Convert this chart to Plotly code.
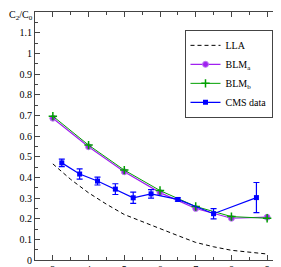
import plotly.graph_objects as go

# ---- data ----
x_blm = [3, 4, 5, 6, 7, 8, 9]
blm_a = [0.686, 0.548, 0.427, 0.326, 0.249, 0.202, 0.207]
blm_b = [0.696, 0.556, 0.435, 0.336, 0.259, 0.210, 0.202]

x_lla = [3, 3.5, 4, 4.5, 5, 5.5, 6, 6.5, 7, 7.5, 8, 8.5, 9]
lla = [0.465, 0.39, 0.325, 0.27, 0.22, 0.185, 0.153, 0.118, 0.085, 0.064, 0.047, 0.037, 0.029]

x_cms = [3.25, 3.75, 4.25, 4.75, 5.25, 5.75, 6.5, 7.5, 8.7]
cms = [0.470, 0.416, 0.382, 0.343, 0.301, 0.320, 0.293, 0.224, 0.302]
cms_err = [0.018, 0.025, 0.019, 0.026, 0.027, 0.021, 0.008, 0.025, 0.073]

x_ticks = [3, 4, 5, 6, 7, 8, 9]
y_ticks = [0, 0.1, 0.2, 0.3, 0.4, 0.5, 0.6, 0.7, 0.8, 0.9, 1, 1.1]
y_tick_labels = ["0", "0.1", "0.2", "0.3", "0.4", "0.5", "0.6", "0.7", "0.8", "0.9", "1", "1.1"]

FONT = "Liberation Serif"
PURPLE = "#a020f0"
GREEN = "#00a000"
BLUE = "#0000ff"

fig = go.Figure()
fig.add_trace(go.Scatter(x=x_lla, y=lla, mode="lines", name="LLA",
                         line=dict(color="black", width=1, dash="4px,3px")))
fig.add_trace(go.Scatter(x=x_blm, y=blm_a, mode="lines+markers", name="BLM<sub>a</sub>",
                         line=dict(color=PURPLE, width=1.2),
                         marker=dict(symbol="circle", size=6, color=PURPLE,
                                     line=dict(color="#c080f0", width=1))))
fig.add_trace(go.Scatter(x=x_blm, y=blm_b, mode="lines+markers", name="BLM<sub>b</sub>",
                         line=dict(color=GREEN, width=1),
                         marker=dict(symbol="cross-thin", size=6,
                                     line=dict(color=GREEN, width=1.5))))
fig.add_trace(go.Scatter(x=x_cms, y=cms, mode="lines+markers", name="CMS data",
                         line=dict(color=BLUE, width=1.2),
                         marker=dict(symbol="square", size=5, color=BLUE),
                         error_y=dict(type="data", array=cms_err, color=BLUE,
                                      thickness=1.2, width=3)))

axis_common = dict(showline=True, linecolor="#444", linewidth=1, mirror="ticks",
                   ticks="inside", ticklen=5, tickcolor="#444", tickwidth=1,
                   showgrid=False, zeroline=False, automargin=False,
                   tickfont=dict(family=FONT, size=10, color="black"))

fig.update_xaxes(range=[2.5, 9.5], tickvals=x_ticks, ticktext=[str(v) for v in x_ticks],
                 minor=dict(dtick=0.5, tick0=0, ticks="inside", ticklen=3, tickcolor="#444"),
                 **axis_common)
fig.update_yaxes(range=[0, 1.2], tickvals=y_ticks, ticktext=y_tick_labels,
                 minor=dict(dtick=0.05, tick0=0, ticks="inside", ticklen=3, tickcolor="#444"),
                 **axis_common)

fig.add_annotation(text="C<sub>2</sub>/C<sub>0</sub>", xref="paper", yref="paper",
                   x=-0.005, y=1.016, xanchor="right", yanchor="top", showarrow=False,
                   borderpad=0,
                   font=dict(family=FONT, size=10, color="black"))
fig.add_annotation(text="Y", xref="paper", yref="paper",
                   x=1.012, y=-0.044, xanchor="right", yanchor="middle", showarrow=False,
                   borderpad=0,
                   font=dict(family=FONT, size=10, color="black"))

fig.update_layout(
    width=281, height=267,
    margin=dict(l=27, r=4, t=4, b=15),
    paper_bgcolor="white", plot_bgcolor="white",
    showlegend=True,
    legend=dict(x=0.95, y=0.928, xanchor="right", yanchor="top",
                bgcolor="white", bordercolor="#444", borderwidth=1,
                font=dict(family=FONT, size=10, color="black"),
                itemwidth=30, tracegroupgap=0),
)

fig.write_html("out.html")
